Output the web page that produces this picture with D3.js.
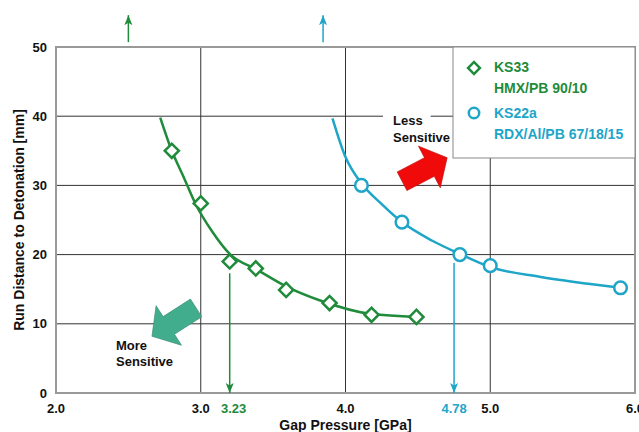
<!DOCTYPE html>
<html>
<head>
<meta charset="utf-8">
<script src="https://cdn.jsdelivr.net/npm/d3@7"></script>
<style>
  body { margin: 0; background: #fff; }
  svg text { font-family: "Liberation Sans", Arial, sans-serif; font-weight: bold; }
</style>
</head>
<body>
<div id="chart"></div>
<script>
// measured points
var ks33Gap = [2.80, 3.00, 3.20, 3.38, 3.59, 3.89, 4.18, 4.49];
var ks33Run = [35.0, 27.4, 19.0, 18.0, 14.9, 13.0, 11.3, 11.0];
var ks22Gap = [4.11, 4.39, 4.79, 5.00, 5.90];
var ks22Run = [30.0, 24.7, 20.0, 18.4, 15.2];

// fitted curves
var ks33FitGap = [2.72, 2.80, 2.88, 2.96, 3.08, 3.20, 3.39, 3.60, 3.82, 4.18, 4.49];
var ks33FitRun = [39.8, 35.0, 31.3, 27.5, 23.3, 20.1, 17.8, 15.3, 13.4, 11.4, 11.0];
var ks22FitGap = [3.91, 4.00, 4.11, 4.25, 4.39, 4.60, 4.79, 5.00, 5.34, 5.69, 5.90];
var ks22FitRun = [39.7, 34.1, 30.3, 27.3, 24.7, 22.0, 20.1, 18.2, 16.8, 15.75, 15.2];

// threshold markers
var thresholdGap = [3.20, 4.75];
var thresholdTop = [17.3, 18.8];
var thresholdLabels = ["3.23", "4.78"];

var xTicks = [2, 3, 4, 5, 6];
var yTicks = [0, 10, 20, 30, 40, 50];

var green = "#1f8b3b", blue = "#1ea5c8";

var width = 639, height = 432;
var margin = {top: 47, right: 4, bottom: 39, left: 56};

var svg = d3.select("#chart").append("svg")
    .attr("width", width)
    .attr("height", height);

var x = d3.scaleLinear().domain([2, 6]).range([margin.left, width - margin.right]);
var y = d3.scaleLinear().domain([0, 50]).range([height - margin.bottom, margin.top]);

// grid
svg.append("g").selectAll("line").data(xTicks.slice(1, -1)).join("line")
    .attr("x1", d => x(d)).attr("x2", d => x(d))
    .attr("y1", y(0)).attr("y2", y(50))
    .attr("stroke", "#333").attr("stroke-width", 1);
svg.append("g").selectAll("line").data(yTicks.slice(1, -1)).join("line")
    .attr("x1", x(2)).attr("x2", x(6))
    .attr("y1", d => y(d)).attr("y2", d => y(d))
    .attr("stroke", "#333").attr("stroke-width", 1);

// frame
svg.append("rect")
    .attr("x", x(2)).attr("y", y(50))
    .attr("width", x(6) - x(2)).attr("height", y(0) - y(50))
    .attr("fill", "none").attr("stroke", "#999").attr("stroke-width", 2);

// tick labels
svg.append("g").selectAll("text").data(yTicks).join("text")
    .attr("x", margin.left - 9).attr("y", d => y(d)).attr("dy", "0.35em")
    .attr("text-anchor", "end").attr("font-size", 13).attr("fill", "#111")
    .text(d => d);
svg.append("g").selectAll("text").data(xTicks).join("text")
    .attr("x", d => x(d)).attr("y", 413)
    .attr("text-anchor", "middle").attr("font-size", 13).attr("fill", "#111")
    .text(d3.format(".1f"));

svg.append("text")
    .attr("x", x(4)).attr("y", 430)
    .attr("text-anchor", "middle").attr("font-size", 14).attr("fill", "#111")
    .text("Gap Pressure [GPa]");
svg.append("text")
    .attr("transform", "translate(24," + (y(25)) + ") rotate(-90)")
    .attr("text-anchor", "middle").attr("font-size", 14).attr("fill", "#111")
    .text("Run Distance to Detonation [mm]");

// "Less Sensitive" label with white patch over grid line
var lessG = svg.append("g");
var lessPatch = lessG.append("rect").attr("fill", "#fff");
var less = lessG.append("text")
    .attr("x", 393).attr("y", 125).attr("font-size", 13).attr("fill", "#111")
    .text("Less");
var bb = less.node().getBBox();
lessPatch.attr("x", bb.x - 10).attr("y", bb.y).attr("width", bb.width + 8 + 10).attr("height", bb.height);
lessG.append("text")
    .attr("x", 393).attr("y", 142).attr("font-size", 13).attr("fill", "#111")
    .text("Sensitive");

svg.append("text").attr("x", 116).attr("y", 350).attr("font-size", 13).attr("fill", "#111").text("More");
svg.append("text").attr("x", 116).attr("y", 366).attr("font-size", 13).attr("fill", "#111").text("Sensitive");

// block arrows
function blockArrow(x0, y0, x1, y1, color) {
  var dx = x1 - x0, dy = y1 - y0;
  var L = Math.sqrt(dx * dx + dy * dy);
  var ang = Math.atan2(dy, dx) * 180 / Math.PI;
  var sw = 10.5, hw = 23.5, hl = 20;
  var pts = [[0, -sw], [L - hl, -sw], [L - hl, -hw], [L, 0], [L - hl, hw], [L - hl, sw], [0, sw]];
  svg.append("polygon")
      .attr("points", pts.map(p => p.join(",")).join(" "))
      .attr("transform", "translate(" + x0 + "," + y0 + ") rotate(" + ang + ")")
      .attr("fill", color)
      .attr("stroke", d3.color(color).darker(0.6)).attr("stroke-width", 0.6);
}
blockArrow(x(4.391), y(30.6), x(4.702), y(34.0), "#f00a0a");
blockArrow(x(2.968), y(12.3), x(2.663), y(8.2), "#42ad8c");

// legend
var lg = svg.append("g");
lg.append("rect")
    .attr("x", 453).attr("y", y(50)).attr("width", x(6) - 453).attr("height", 111)
    .attr("fill", "#fff").attr("stroke", "#888").attr("stroke-width", 1);
lg.append("path")
    .attr("d", d3.symbol(d3.symbolSquare, 70)())
    .attr("transform", "translate(474,68) rotate(45)")
    .attr("fill", "#fff").attr("stroke", green).attr("stroke-width", 2.5);
lg.append("circle").attr("cx", 474).attr("cy", 113).attr("r", 5.2)
    .attr("fill", "#fff").attr("stroke", blue).attr("stroke-width", 2.5);
var legendText = [["KS33", 72, green], ["HMX/PB 90/10", 93, green], ["KS22a", 118, blue], ["RDX/Al/PB 67/18/15", 139, blue]];
lg.selectAll("text.lt").data(legendText).join("text")
    .attr("class", "lt")
    .attr("x", 494).attr("y", d => d[1]).attr("font-size", 14).attr("fill", d => d[2])
    .text(d => d[0]);

// arrow markers
var defs = svg.append("defs");
[["hg", green], ["hb", blue]].forEach(function(m) {
  defs.append("marker").attr("id", m[0])
      .attr("viewBox", "0 0 10 10").attr("refX", 10).attr("refY", 5)
      .attr("markerWidth", 10).attr("markerHeight", 10).attr("markerUnits", "userSpaceOnUse")
      .attr("orient", "auto")
      .append("path").attr("d", "M0,1 L10,5 L0,9 L2.5,5 Z").attr("fill", m[1]);
});

// curves
var line = d3.line().x(d => x(d[0])).y(d => y(d[1])).curve(d3.curveMonotoneX);
svg.append("path")
    .attr("d", line(d3.zip(ks33FitGap, ks33FitRun)))
    .attr("fill", "none").attr("stroke", green).attr("stroke-width", 2.5);
svg.append("path")
    .attr("d", line(d3.zip(ks22FitGap, ks22FitRun)))
    .attr("fill", "none").attr("stroke", blue).attr("stroke-width", 2.5);

// threshold arrows
var thColors = [green, blue], thMarks = ["hg", "hb"];
svg.append("g").selectAll("line").data(thresholdGap).join("line")
    .attr("x1", d => x(d)).attr("x2", d => x(d))
    .attr("y1", (d, i) => y(thresholdTop[i])).attr("y2", y(0))
    .attr("stroke", (d, i) => thColors[i]).attr("stroke-width", 1.5)
    .attr("marker-end", (d, i) => "url(#" + thMarks[i] + ")");
svg.append("g").selectAll("text").data(thresholdGap).join("text")
    .attr("x", (d, i) => x(d) + (i === 0 ? 4 : 0)).attr("y", 413)
    .attr("text-anchor", "middle").attr("font-size", 13)
    .attr("fill", (d, i) => thColors[i])
    .text((d, i) => thresholdLabels[i]);

// top arrows
var upGap = [2.5, 3.845];
svg.append("g").selectAll("line").data(upGap).join("line")
    .attr("x1", d => x(d)).attr("x2", d => x(d))
    .attr("y1", y(50.7)).attr("y2", y(54.6))
    .attr("stroke", (d, i) => thColors[i]).attr("stroke-width", 1.5)
    .attr("marker-end", (d, i) => "url(#" + thMarks[i] + ")");

// markers
svg.append("g").selectAll("path").data(d3.zip(ks33Gap, ks33Run)).join("path")
    .attr("d", d3.symbol(d3.symbolSquare, 100)())
    .attr("transform", d => "translate(" + x(d[0]) + "," + y(d[1]) + ") rotate(45)")
    .attr("fill", "#fff").attr("stroke", green).attr("stroke-width", 2.5);
svg.append("g").selectAll("circle").data(d3.zip(ks22Gap, ks22Run)).join("circle")
    .attr("cx", d => x(d[0])).attr("cy", d => y(d[1])).attr("r", 6.3)
    .attr("fill", "#fff").attr("stroke", blue).attr("stroke-width", 2.5);
</script>
</body>
</html>
